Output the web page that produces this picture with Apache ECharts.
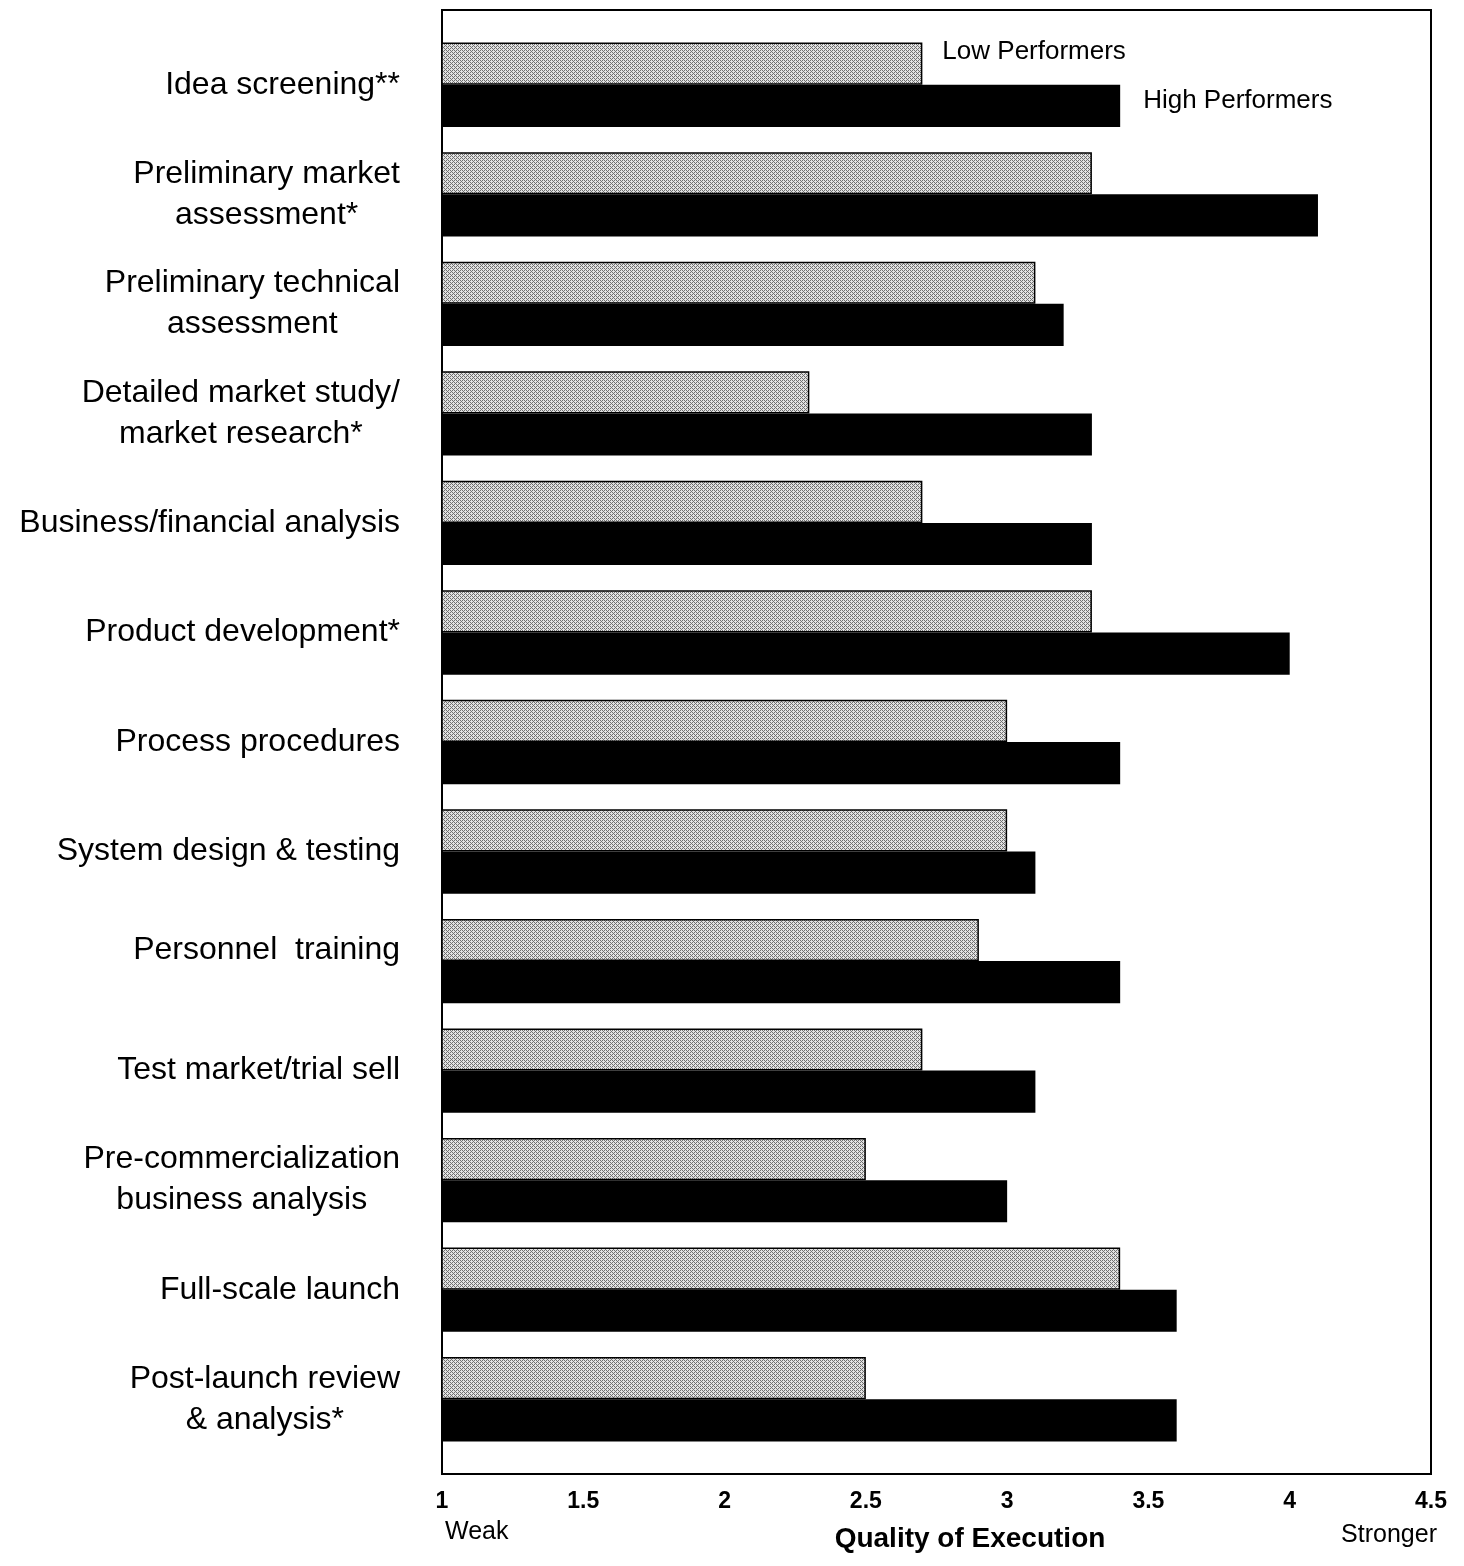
<!DOCTYPE html>
<html>
<head>
<meta charset="utf-8">
<title>Quality of Execution</title>
<style>
  html, body { margin: 0; padding: 0; background: #ffffff; }
  #chart { width: 1464px; height: 1566px; }
</style>
<script src="https://cdn.jsdelivr.net/npm/echarts@6/dist/echarts.min.js"></script>
</head>
<body>
<div id="chart"></div>
<script>
// Stages of the new-product process, top to bottom
const stages = [
  'Idea screening**',
  'Preliminary market\nassessment*',
  'Preliminary technical\nassessment',
  'Detailed market study/\nmarket research*',
  'Business/financial analysis',
  'Product development*',
  'Process procedures',
  'System design & testing',
  'Personnel  training\n',
  'Test market/trial sell',
  'Pre-commercialization\nbusiness analysis',
  'Full-scale launch',
  'Post-launch review\n& analysis*'
];

// Mean quality-of-execution scores
const lowPerformers  = [2.7, 3.3, 3.1, 2.3, 2.7, 3.3, 3.0, 3.0, 2.9, 2.7, 2.5, 3.4, 2.5];
const highPerformers = [3.4, 4.1, 3.2, 3.3, 3.3, 4.0, 3.4, 3.1, 3.4, 3.1, 3.0, 3.6, 3.6];
const seriesNames = ['Low Performers', 'High Performers'];

// Scale
const scaleTicks = [1, 1.5, 2, 2.5, 3, 3.5, 4, 4.5];
const scaleEnds = ['Weak', 'Stronger'];
const axisTitle = 'Quality of Execution';

const FONT = '"Liberation Sans", Arial, Helvetica, sans-serif';

// Light grey stipple used to fill the low-performer bars
function stipple() {
  const c = document.createElement('canvas');
  c.width = 4; c.height = 4;
  const g = c.getContext('2d');
  const bayer = [[0, 8, 2, 10], [12, 4, 14, 6], [3, 11, 1, 9], [15, 7, 13, 5]];
  for (let y = 0; y < 4; y++) {
    for (let x = 0; x < 4; x++) {
      g.fillStyle = bayer[y][x] < 6 ? '#707070' : '#e2e2e2';
      g.fillRect(x, y, 1, 1);
    }
  }
  return c;
}

// Multi-line stage names: lines centred on each other, block right-aligned to the axis
function stageLabel(v) {
  return v.split('\n').map(l => l ? '{c|' + l + '}' : '{e| }').join('\n');
}

const scaleMin = scaleTicks[0];
const scaleMax = scaleTicks[scaleTicks.length - 1];
const scaleStep = scaleTicks[1] - scaleTicks[0];

const chart = echarts.init(document.getElementById('chart'), null, { renderer: 'canvas' });

const option = {
  animation: false,
  backgroundColor: '#ffffff',
  textStyle: { fontFamily: FONT, color: '#000' },
  grid: [
    // bars
    { left: 442, right: 33, top: 30, bottom: 112 },
    // frame
    { left: 442, right: 33, top: 10, bottom: 92, show: true,
      borderColor: '#000', borderWidth: 2, backgroundColor: 'transparent' }
  ],
  xAxis: [
    { gridIndex: 0, type: 'value', min: scaleMin, max: scaleMax, interval: scaleStep, show: false },
    { gridIndex: 1, type: 'value', min: scaleMin, max: scaleMax, interval: scaleStep,
      axisLine: { show: false }, axisTick: { show: false }, splitLine: { show: false },
      axisLabel: { margin: 16, fontSize: 23, fontWeight: 'bold', color: '#000', fontFamily: FONT } }
  ],
  yAxis: [
    { gridIndex: 0, type: 'category', data: stages, inverse: true,
      axisLine: { show: false }, axisTick: { show: false }, splitLine: { show: false },
      axisLabel: {
        interval: 0,
        margin: 42,
        color: '#000',
        fontSize: 32,
        formatter: stageLabel,
        rich: {
          c: { align: 'center', fontSize: 32, lineHeight: 41, fontFamily: FONT, color: '#000' },
          e: { align: 'center', fontSize: 12, lineHeight: 22, fontFamily: FONT, color: '#000' }
        }
      } },
    { gridIndex: 1, type: 'value', show: false }
  ],
  series: [
    {
      name: seriesNames[0],
      type: 'bar',
      xAxisIndex: 0, yAxisIndex: 0,
      barGap: '0%',
      barCategoryGap: '23%',
      clip: true,
      itemStyle: { color: { image: stipple(), repeat: 'repeat' }, borderColor: '#000', borderWidth: 1.5 },
      data: lowPerformers.map((v, i) => i === 0 ? {
        value: v,
        label: { show: true, formatter: '{a}', position: 'right', distance: 20, offset: [0, -12],
                 fontSize: 26, color: '#000', fontFamily: FONT }
      } : v)
    },
    {
      name: seriesNames[1],
      type: 'bar',
      xAxisIndex: 0, yAxisIndex: 0,
      barGap: '0%',
      barCategoryGap: '23%',
      clip: true,
      itemStyle: { color: '#000' },
      data: highPerformers.map((v, i) => i === 0 ? {
        value: v,
        label: { show: true, formatter: '{a}', position: 'right', distance: 23, offset: [0, -5],
                 fontSize: 26, color: '#000', fontFamily: FONT }
      } : v)
    }
  ],
  graphic: [
    { type: 'text', x: 445, y: 1532,
      style: { text: scaleEnds[0], font: '25px ' + FONT, fill: '#000', textAlign: 'left', textVerticalAlign: 'middle' } },
    { type: 'text', x: 1437, y: 1535,
      style: { text: scaleEnds[1], font: '25px ' + FONT, fill: '#000', textAlign: 'right', textVerticalAlign: 'middle' } },
    { type: 'text', x: 970, y: 1539,
      style: { text: axisTitle, font: 'bold 28px ' + FONT, fill: '#000', textAlign: 'center', textVerticalAlign: 'middle' } }
  ]
};

chart.setOption(option);
</script>
</body>
</html>
